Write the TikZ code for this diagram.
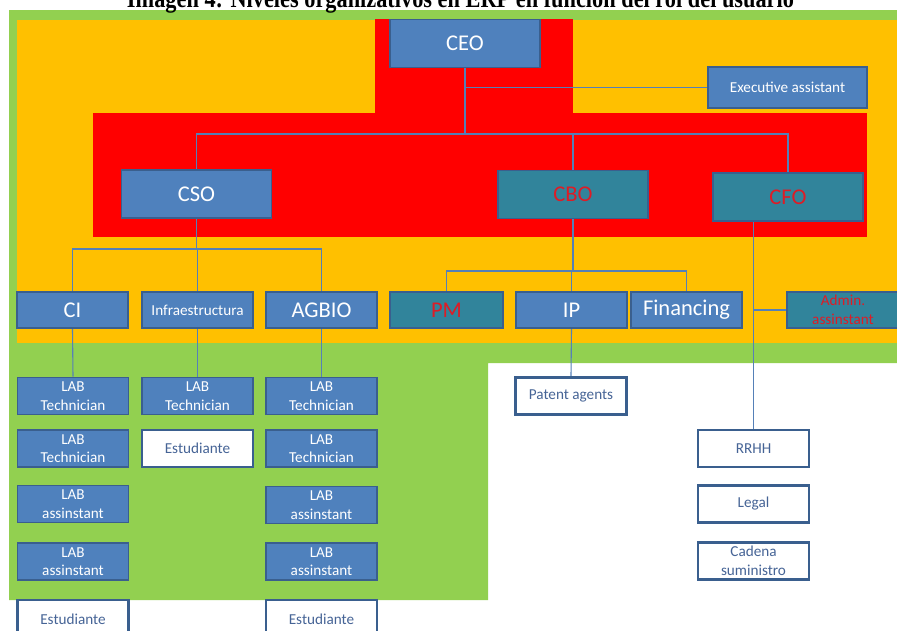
\documentclass[tikz,border=0pt]{standalone}
\usepackage{fontspec}
\setmainfont{Carlito}
\newfontfamily\titlefont{Liberation Serif}
\usetikzlibrary{backgrounds}

\definecolor{zonegreen}{HTML}{92D050}
\definecolor{zoneyellow}{HTML}{FFC000}
\definecolor{zonered}{HTML}{FF0000}
\definecolor{boxblue}{HTML}{4F81BD}
\definecolor{boxteal}{HTML}{31849B}
\definecolor{boxline}{HTML}{3A5F8E}
\definecolor{wordred}{RGB}{222,28,38}
\definecolor{wordblue}{RGB}{70,100,150}
\definecolor{linkblue}{HTML}{5580B8}

\tikzset{
  box/.style={draw=boxline, line width=1.7pt, inner sep=0pt, align=center,
              minimum width=111pt, minimum height=37pt},
  bluebox/.style={box, fill=boxblue, text=white},
  tealbox/.style={box, fill=boxteal, text=wordred},
  whitebox/.style={box, fill=white, text=wordblue, line width=2.3pt},
  big/.style={font=\fontsize{22.5}{24}\selectfont},
  small/.style={font=\fontsize{15.2}{18.5}\selectfont},
  head/.style={minimum width=150pt, minimum height=48pt},
  link/.style={draw=linkblue, line width=1.1pt},
}

\begin{document}
\begin{tikzpicture}[x=1pt, y=-1pt]
\useasboundingbox (0,0) rectangle (897,630);
\clip (0,0) rectangle (897,630);

% title line, its upper part runs past the page edge
\node[anchor=base, inner sep=0pt] (title) at (460.5,7.5)
  {\resizebox{667pt}{\height}{\titlefont\bfseries\fontsize{26}{28}\selectfont Imagen 4: Niveles organizativos en ERP en función del rol del usuario}};

% top management
\node[bluebox, big, head] (ceo) at (465,43.5) {CEO};
\node[bluebox, small, minimum width=159pt, minimum height=41pt] (exec) at (787.5,87.5) {Executive assistant};
\node[bluebox, big, head] (cso) at (196.5,194) {CSO};
\node[tealbox, big, head] (cbo) at (573,194.5) {CBO};
\node[tealbox, big, head] (cfo) at (788,197) {CFO};

% department heads
\node[bluebox, big, minimum height=36pt] (ci) at (72.5,310) {CI};
\node[bluebox, small, minimum height=36pt] (infra) at (197.5,310) {Infraestructura};
\node[bluebox, big, minimum height=36pt] (agbio) at (321.5,310) {AGBIO};
\node[tealbox, big, minimum height=36pt, minimum width=113pt] (pm) at (446.5,310) {PM};
\node[bluebox, big, minimum height=36pt] (ip) at (571.5,310) {IP};
\node[bluebox, big, minimum height=36pt] (fin) at (686.5,310) {Financing};
\node[tealbox, small, minimum height=36pt, minimum width=112pt] (admin) at (843,310) {Admin.\\assinstant};

% CI staff
\node[bluebox, small] (ci1) at (73,396) {LAB\\Technician};
\node[bluebox, small] (ci2) at (73,448.5) {LAB\\Technician};
\node[bluebox, small] (ci3) at (73,504) {LAB\\assinstant};
\node[bluebox, small] (ci4) at (73,561.5) {LAB\\assinstant};
\node[whitebox, small, minimum height=38pt] (ci5) at (73,619) {Estudiante};

% Infraestructura staff
\node[bluebox, small] (in1) at (197.5,396) {LAB\\Technician};
\node[whitebox, small] (in2) at (197.5,448.5) {Estudiante};

% AGBIO staff
\node[bluebox, small] (ag1) at (321.5,396) {LAB\\Technician};
\node[bluebox, small] (ag2) at (321.5,448.5) {LAB\\Technician};
\node[bluebox, small] (ag3) at (321.5,505) {LAB\\assinstant};
\node[bluebox, small] (ag4) at (321.5,561.5) {LAB\\assinstant};
\node[whitebox, small, minimum height=38pt] (ag5) at (321.5,619) {Estudiante};

% IP and CFO staff
\node[whitebox, small] (pat) at (571,396) {Patent agents};
\node[whitebox, small] (rrhh) at (753.5,448.5) {RRHH};
\node[whitebox, small] (legal) at (753.5,504) {Legal};
\node[whitebox, small] (cadena) at (753.5,561) {Cadena\\suministro};

% bus points
\coordinate (topbus) at (465,134);
\coordinate (csobus) at (196.5,249);
\coordinate (cbobus) at (573,271);

\begin{scope}[on background layer]
  % level zones
  \fill[zonegreen] (9,10) -- (897,10) -- (897,363) -- (488,363) -- (488,600) -- (9,600) -- cycle;
  \fill[zoneyellow] (17,19.5) rectangle (897,343);
  \fill[zonered] (374.5,19) rectangle (573,113);
  \fill[zonered] (93,113) rectangle (867,236.5);

  % reporting lines
  \draw[link] (ceo.south) -- (topbus);
  \draw[link] (exec.west) -- (exec.west -| ceo.south);
  \draw[link] (cso.north) |- (topbus) -| (cfo.north);
  \draw[link] (cbo.north) -- (cbo.north |- topbus);

  \draw[link] (cso.south) -- (csobus);
  \draw[link] (ci.north) |- (csobus) -| (agbio.north);
  \draw[link] (infra.north) -- (infra.north |- csobus);

  \draw[link] (cbo.south) -- (cbobus);
  \draw[link] (pm.north) |- (cbobus) -| (fin.north);
  \draw[link] (ip.north) -- (ip.north |- cbobus);

  \draw[link] (rrhh.north) -- (rrhh.north |- cfo.south);
  \draw[link] (admin.west) -- (admin.west -| rrhh.north);

  \draw[link] (ci.south) -- (ci1.north);
  \draw[link] (infra.south) -- (in1.north);
  \draw[link] (agbio.south) -- (ag1.north);
  \draw[link] (ip.south) -- (pat.north);
\end{scope}
\end{tikzpicture}
\end{document}
